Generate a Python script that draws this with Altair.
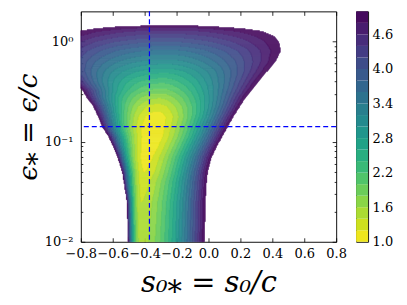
import numpy as np
import pandas as pd
import altair as alt

# ---------------- values ----------------
# rows of the filled-contour field, log10(eps_* = eps/c)
ROW_LOG = [0.160, 0.150, 0.130, 0.100, 0.050, 0.000, -0.090, -0.200, -0.300, -0.400, -0.480,
           -0.550, -0.650, -0.750, -0.850, -0.950, -1.050, -1.150, -1.300, -1.400, -1.600, -2.000]
# left and right edge of the coloured region (s0/c) on each row
ROW_XL = [-0.30, -0.55, -0.70, -0.82, -0.90, -0.95, -0.98, -0.97, -0.92, -0.85, -0.79,
          -0.765, -0.72, -0.69, -0.665, -0.625, -0.595, -0.57, -0.54, -0.53, -0.51, -0.504]
ROW_XR = [-0.15, 0.02, 0.21, 0.34, 0.41, 0.44, 0.452, 0.42, 0.365, 0.31, 0.27,
          0.235, 0.195, 0.155, 0.12, 0.085, 0.05, 0.02, -0.006, -0.012, -0.02, -0.025]
# position and value of the lowest level on each row
ROW_XM = [-0.22, -0.22, -0.22, -0.22, -0.22, -0.23, -0.24, -0.25, -0.26, -0.28, -0.29,
          -0.30, -0.31, -0.32, -0.34, -0.35, -0.37, -0.39, -0.40, -0.41, -0.42, -0.42]
ROW_VM = [5.0, 4.85, 4.7, 4.5, 4.25, 4.0, 3.55, 3.1, 2.65, 2.25, 1.95,
          1.65, 1.3, 1.08, 1.02, 1.02, 1.05, 1.1, 1.2, 1.3, 1.4, 1.5]
EDGE_VALUE = 5.0
# steepness of the level spacing left / right of the minimum
P_LEFT, P_RIGHT = 2.2, 1.6

LEVELS = [round(1.0 + 0.2 * i, 1) for i in range(21)]
CB_TICKS = [1.0, 1.6, 2.2, 2.8, 3.4, 4.0, 4.6]
X_TICKS = [-0.8, -0.6, -0.4, -0.2, 0.0, 0.2, 0.4, 0.6, 0.8]
Y_MAJOR = [0.01, 0.1, 1.0]
Y_MAJOR_LABELS = ["10⁻²", "10⁻¹", "10⁰"]
Y_MINOR = [0.02, 0.03, 0.04, 0.05, 0.06, 0.07, 0.08, 0.09,
           0.2, 0.3, 0.4, 0.5, 0.6, 0.7, 0.8, 0.9]
VLINE_X = [-0.37]
HLINE_Y = [0.141]
X_DOMAIN = [-0.8, 0.8]
Y_DOMAIN = [0.01, 2.0]
X_TITLE = "s₀⁎ = s₀/c"
Y_TITLE = "ϵ⁎ = ϵ/c"

# ---------------- build the filled field ----------------
order = np.argsort(ROW_LOG)
rl = np.array(ROW_LOG)[order]
axl = np.array(ROW_XL)[order]
axr = np.array(ROW_XR)[order]
axm = np.array(ROW_XM)[order]
avm = np.array(ROW_VM)[order]

DX, DL = 0.005, 0.01
edges = np.round(np.arange(X_DOMAIN[0], X_DOMAIN[1] + 1e-9, DX), 6)
centers = (edges[:-1] + edges[1:]) / 2
lev = np.array(LEVELS)
recs = []
for lb in np.arange(-2.0, max(ROW_LOG), DL):
    lc = lb + DL / 2
    xl, xr = np.interp(lc, rl, axl), np.interp(lc, rl, axr)
    xm, vm = np.interp(lc, rl, axm), np.interp(lc, rl, avm)
    if vm >= EDGE_VALUE:
        continue
    v = np.full(centers.shape, np.nan)
    left = (centers >= xl) & (centers < xm)
    right = (centers >= xm) & (centers <= xr)
    v[left] = vm + (EDGE_VALUE - vm) * ((xm - centers[left]) / (xm - xl)) ** P_LEFT
    v[right] = vm + (EDGE_VALUE - vm) * ((centers[right] - xm) / (xr - xm)) ** P_RIGHT
    band = np.full(centers.shape, -1)
    ok = ~np.isnan(v) & (v < lev[-1])
    band[ok] = np.clip(np.searchsorted(lev, v[ok], side="right") - 1, 0, len(lev) - 2)
    n = len(band)
    i = 0
    while i < n:
        b = band[i]
        j = i
        while j + 1 < n and band[j + 1] == b:
            j += 1
        if b >= 0:
            recs.append({"x": float(edges[i]), "x2": float(edges[j + 1]),
                         "y": float(10 ** lb), "y2": float(10 ** (lb + DL)),
                         "v": float((lev[b] + lev[b + 1]) / 2)})
        i = j + 1
field = pd.DataFrame(recs)

FONT = "DejaVu Serif, Liberation Serif, serif"
xscale = alt.Scale(domain=X_DOMAIN, nice=False, zero=False)
yscale = alt.Scale(type="log", domain=Y_DOMAIN, nice=False)
cscale = alt.Scale(scheme="viridis", reverse=True, domain=[LEVELS[0], LEVELS[-1]])

label_expr = " : ".join(
    f"datum.value < {v * 1.5} ? '{t}'" for v, t in zip(Y_MAJOR[:-1], Y_MAJOR_LABELS[:-1])
) + f" : '{Y_MAJOR_LABELS[-1]}'"

heat = alt.Chart(field).mark_rect(strokeWidth=0.4).encode(
    x=alt.X("x:Q", scale=xscale, axis=alt.Axis(
        orient="bottom", values=X_TICKS, format=".1f", ticks=False, domain=False,
        grid=False, labelPadding=6, labelOverlap=False, labelFlush=False,
        title=X_TITLE, titleFont=FONT, titleFontSize=29, titleFontStyle="italic",
        titleFontWeight="normal", titlePadding=8)),
    x2="x2:Q",
    y=alt.Y("y:Q", scale=yscale, axis=alt.Axis(
        orient="left", values=Y_MAJOR, labelExpr=label_expr, ticks=False,
        domain=False, grid=False, labelPadding=8, labelOverlap=False, labelFlush=False,
        title=Y_TITLE, titleFont=FONT, titleFontSize=27, titleFontStyle="italic",
        titleFontWeight="normal", titlePadding=2)),
    y2="y2:Q",
    color=alt.Color("v:Q", scale=cscale, legend=None),
    stroke=alt.Stroke("v:Q", scale=cscale, legend=None),
)

vline = alt.Chart(pd.DataFrame({"x": VLINE_X})).mark_rule(
    color="#0000ff", strokeDash=[5, 3], strokeWidth=1.2
).encode(x=alt.X("x:Q", scale=xscale, axis=None))

hline = alt.Chart(pd.DataFrame({"y": HLINE_Y})).mark_rule(
    color="#0000ff", strokeDash=[5, 3], strokeWidth=1.2
).encode(y=alt.Y("y:Q", scale=yscale, axis=None))

dummy = pd.DataFrame({"x": [X_DOMAIN[0]], "y": [Y_DOMAIN[0]]})


def tick_layer(xorient, yorient, yvalues, size, with_x=True):
    xa = alt.Axis(orient=xorient, values=X_TICKS, labels=False, tickSize=size, offset=-size,
                  domain=False, grid=False, title=None) if with_x else None
    ya = alt.Axis(orient=yorient, values=yvalues, labels=False, tickSize=size, offset=-size,
                  domain=False, grid=False, title=None)
    return alt.Chart(dummy).mark_point(opacity=0).encode(
        x=alt.X("x:Q", scale=xscale, axis=xa),
        y=alt.Y("y:Q", scale=yscale, axis=ya),
    )


ticks_bl = tick_layer("bottom", "left", Y_MAJOR, 4)
ticks_tr = tick_layer("top", "right", Y_MAJOR, 4)
minor_l = tick_layer("bottom", "left", Y_MINOR, 2, with_x=False)
minor_r = tick_layer("top", "right", Y_MINOR, 2, with_x=False)

main = alt.layer(heat, vline, hline, ticks_bl, ticks_tr, minor_l, minor_r).resolve_axis(
    x="independent", y="independent"
).properties(width=256, height=231)

cb = pd.DataFrame({"lo": LEVELS[:-1], "hi": LEVELS[1:]})
cb["v"] = (cb["lo"] + cb["hi"]) / 2
cbscale = alt.Scale(domain=[LEVELS[0], LEVELS[-1]], nice=False, zero=False)
cbar = alt.Chart(cb).mark_rect().encode(
    x=alt.value(0), x2=alt.value(12),
    y=alt.Y("lo:Q", scale=cbscale,
            axis=alt.Axis(orient="right", values=CB_TICKS, format=".1f", ticks=False,
                          domain=False, grid=False, labelPadding=4, labelOverlap=False,
                          labelFlush=False, title=None)),
    y2="hi:Q",
    color=alt.Color("v:Q", scale=cscale, legend=None),
).properties(width=12, height=231)

chart = alt.hconcat(main, cbar, spacing=8).properties(
    padding={"left": 5, "top": 1, "right": 5, "bottom": 5}
).configure_view(stroke="#111", strokeWidth=1).configure_axis(
    labelFont=FONT, labelFontSize=13, labelColor="black", tickColor="black",
    titleColor="black", tickWidth=0.8
)

chart.save("out.html", embed_options={"renderer": "svg", "actions": False})
